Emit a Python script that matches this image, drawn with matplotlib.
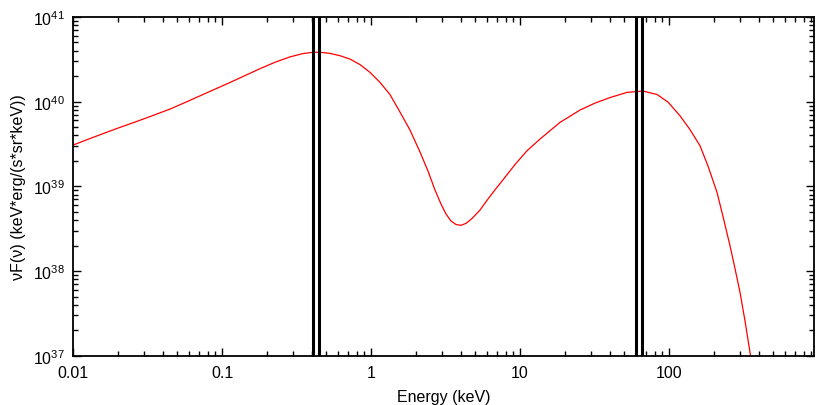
import matplotlib
matplotlib.use("Agg")
import matplotlib.pyplot as plt
from matplotlib.ticker import FixedLocator, FixedFormatter, LogLocator, NullFormatter

plt.rcParams['font.family'] = ['Liberation Sans', 'DejaVu Sans']
plt.rcParams['mathtext.fontset'] = 'custom'
plt.rcParams['mathtext.rm'] = 'Liberation Sans'

# Spectrum
energy = [0.01000, 0.01300, 0.01640, 0.02067, 0.02607, 0.03287, 0.04477, 0.05823, 0.07457, 0.09257,
          0.1132, 0.1427, 0.1799, 0.2268, 0.2860, 0.3496, 0.4080, 0.4547, 0.5307, 0.6193,
          0.7231, 0.8439, 0.9847, 1.149, 1.341, 1.565, 1.827, 2.133, 2.413, 2.689,
          2.950, 3.187, 3.443, 3.720, 4.018, 4.341, 4.763, 5.389, 6.098, 6.902,
          7.930, 9.256, 11.14, 13.62, 18.56, 25.27, 31.87, 40.18, 52.26, 66.92,
          83.07, 98.47, 118.5, 138.3, 161.5, 182.7, 210.0, 230.4, 256.7, 277.3,
          299.6, 323.7, 349.6, 371.9]
nufnu = [3.074e39, 3.667e39, 4.281e39, 4.972e39, 5.742e39, 6.671e39, 8.178e39, 1.000e40, 1.216e40, 1.439e40,
         1.685e40, 2.033e40, 2.453e40, 2.919e40, 3.381e40, 3.698e40, 3.831e40, 3.831e40, 3.718e40, 3.492e40,
         3.184e40, 2.742e40, 2.218e40, 1.690e40, 1.213e40, 7.539e39, 4.620e39, 2.541e39, 1.516e39, 9.045e38,
         6.180e38, 4.710e38, 3.894e38, 3.540e38, 3.464e38, 3.657e38, 4.168e38, 5.251e38, 7.082e38, 9.419e38,
         1.277e39, 1.809e39, 2.632e39, 3.618e39, 5.696e39, 7.959e39, 9.627e39, 1.118e40, 1.288e40, 1.334e40,
         1.216e40, 9.893e39, 6.817e39, 4.684e39, 3.015e39, 1.737e39, 8.498e38, 4.400e38, 1.989e38, 1.070e38,
         5.604e37, 2.569e37, 1.097e37, 5.605e36]

# Vertical marker lines
vlines_energy = [0.41, 0.45, 60.0, 65.6]

xticks = [0.01, 0.1, 1, 10, 100]
xticklabels = ["0.01", "0.1", "1", "10", "100"]

fig = plt.figure(figsize=(8.30, 4.06), dpi=100)
ax = fig.add_axes([73/830, 1 - 356.7/406, (814-73)/830, (356.7-18)/406])

ax.plot(energy, nufnu, color='#ff0000', lw=0.9)
for v in vlines_energy:
    ax.axvline(v, color='black', lw=2.2)

ax.set_xscale('log')
ax.set_yscale('log')
ax.set_xlim(0.01, 940)
ax.set_ylim(1e37, 1e41)

ax.xaxis.set_major_locator(FixedLocator(xticks))
ax.xaxis.set_major_formatter(FixedFormatter(xticklabels))
ax.xaxis.set_minor_locator(LogLocator(base=10, subs=range(2, 10), numticks=20))
ax.xaxis.set_minor_formatter(NullFormatter())
ax.yaxis.set_major_locator(LogLocator(base=10, numticks=10))
ax.yaxis.set_minor_locator(LogLocator(base=10, subs=range(2, 10), numticks=20))
ax.yaxis.set_minor_formatter(NullFormatter())

ax.tick_params(which='both', direction='in', top=True, right=True, width=1.0, labelsize=11.5)
ax.tick_params(which='major', length=6)
ax.tick_params(which='minor', length=3.5)
ax.tick_params(axis='x', which='major', pad=7)
ax.tick_params(axis='y', which='major', pad=6)
for s in ax.spines.values():
    s.set_linewidth(1.3)

ax.set_xlabel('Energy (keV)', fontsize=11.5, labelpad=6.5)
ax.set_ylabel('νF(ν) (keV*erg/(s*sr*keV))', fontsize=11.5, labelpad=5)

fig.savefig('out.png', dpi=100)
